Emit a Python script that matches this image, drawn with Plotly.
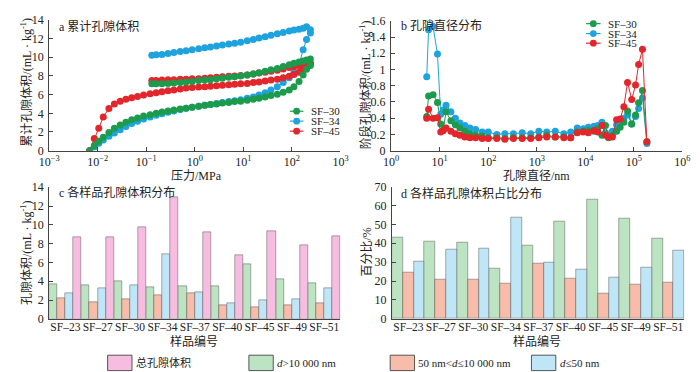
import plotly.graph_objects as go

W, H = 700, 372
FONT = '"Liberation Serif", "Times New Roman", "Noto Sans CJK SC", serif'

# ---------------- (a) cumulative pore volume ----------------
pressure_intrusion = [0.0068, 0.0085, 0.0105, 0.013, 0.017, 0.022, 0.029, 0.038, 0.05, 0.066,
                      0.088, 0.12, 0.16, 0.21, 0.28, 0.37, 0.5, 0.66, 0.88, 1.2,
                      1.6, 2.1, 2.8, 3.7, 5, 6.6, 8.8, 12, 16, 21,
                      28, 37, 50, 66, 88, 110, 140, 170, 200, 240]
pressure_extrusion = [240, 200, 170, 140, 110, 88, 66, 50, 37, 28,
                      21, 16, 12, 8.8, 6.6, 5, 3.7, 2.8, 2.1, 1.6,
                      1.2, 0.88, 0.66, 0.5, 0.37, 0.28, 0.21, 0.16, 0.13]

sf30_intrusion = [0, 0.55, 1.0, 1.45, 1.95, 2.4, 2.75, 3.05, 3.3, 3.5,
                  3.7, 3.85, 4.0, 4.15, 4.25, 4.35, 4.45, 4.55, 4.65, 4.75,
                  4.85, 4.95, 5.0, 5.1, 5.15, 5.25, 5.3, 5.4, 5.5, 5.6,
                  5.75, 5.9, 6.05, 6.25, 6.5, 6.85, 7.4, 8.1, 8.7, 9.1]
sf30_extrusion = [9.8, 9.7, 9.6, 9.5, 9.35, 9.2, 9.0, 8.8, 8.65, 8.5,
                  8.35, 8.2, 8.1, 8.0, 7.9, 7.85, 7.75, 7.7, 7.6, 7.55,
                  7.5, 7.4, 7.35, 7.3, 7.25, 7.2, 7.15, 7.15, 7.15]

sf34_intrusion = [0, 0.4, 0.8, 1.15, 1.55, 1.9, 2.25, 2.6, 2.9, 3.15,
                  3.4, 3.6, 3.8, 3.95, 4.1, 4.25, 4.4, 4.55, 4.65, 4.75,
                  4.85, 4.95, 5.05, 5.15, 5.25, 5.35, 5.45, 5.6, 5.75, 5.95,
                  6.2, 6.5, 6.85, 7.3, 7.8, 8.4, 9.2, 10.8, 11.9, 12.6]
sf34_extrusion = [12.95, 13.25, 13.1, 13.0, 12.9, 12.8, 12.65, 12.5, 12.35, 12.2,
                  12.05, 11.9, 11.75, 11.6, 11.5, 11.4, 11.3, 11.2, 11.1, 11.0,
                  10.9, 10.8, 10.7, 10.6, 10.5, 10.4, 10.3, 10.25, 10.2]

sf45_intrusion = [0, 1.3, 2.4, 3.6, 4.5, 5.0, 5.3, 5.5, 5.65, 5.8,
                  5.95, 6.1, 6.2, 6.3, 6.4, 6.5, 6.6, 6.7, 6.75, 6.8,
                  6.85, 6.9, 6.95, 7.0, 7.05, 7.1, 7.15, 7.2, 7.3, 7.35,
                  7.45, 7.55, 7.65, 7.8, 7.95, 8.15, 8.4, 8.7, 9.0, 9.3]
sf45_extrusion = [9.35, 9.3, 9.2, 9.1, 9.0, 8.9, 8.75, 8.6, 8.5, 8.4,
                  8.3, 8.2, 8.1, 8.05, 8.0, 7.95, 7.9, 7.85, 7.8, 7.75,
                  7.7, 7.7, 7.65, 7.65, 7.6, 7.6, 7.55, 7.5, 7.5]

# ---------------- (b) pore diameter distribution ----------------
diameter_nm = [5.4, 5.9, 7.3, 9.0, 10.5, 11.8, 13.5, 17, 21, 26,
               33, 42, 55, 75, 100, 150, 220, 330, 500, 750,
               1100, 1600, 2400, 3600, 5000, 6800, 9000, 11500, 15000, 18000,
               22000, 26000, 30000, 36000, 44000, 52000, 62000, 74000, 90000, 108000,
               125000, 150000, 185000]
sf30_stage = [0.42, 0.675, 0.69, 0.595, 0.33, 0.25, 0.48, 0.37, 0.32, 0.28,
              0.24, 0.21, 0.19, 0.18, 0.16, 0.16, 0.15, 0.16, 0.16, 0.16,
              0.17, 0.19, 0.17, 0.17, 0.16, 0.23, 0.24, 0.25, 0.24, 0.27,
              0.19, 0.31, 0.16, 0.19, 0.24, 0.29, 0.35, 0.49, 0.33, 0.44,
              0.59, 0.74, 0.11]
sf34_stage = [0.91, 1.49, 1.53, 1.19, 0.45, 0.5, 0.56, 0.48, 0.4, 0.34,
              0.31, 0.28, 0.26, 0.23, 0.23, 0.2, 0.21, 0.21, 0.22, 0.21,
              0.24, 0.23, 0.24, 0.21, 0.23, 0.28, 0.27, 0.29, 0.3, 0.31,
              0.35, 0.22, 0.19, 0.24, 0.32, 0.36, 0.4, 0.44, 0.33, 0.42,
              0.52, 0.65, 0.09]
sf45_stage = [0.4, 0.51, 0.4, 0.405, 0.23, 0.25, 0.28, 0.24, 0.21, 0.19,
              0.17, 0.16, 0.16, 0.15, 0.15, 0.15, 0.14, 0.15, 0.15, 0.15,
              0.16, 0.17, 0.17, 0.16, 0.16, 0.22, 0.23, 0.22, 0.25, 0.23,
              0.31, 0.19, 0.17, 0.17, 0.38, 0.39, 0.54, 0.84, 0.63, 0.81,
              1.06, 1.25, 0.11]

# ---------------- (c)/(d) bar data ----------------
samples = ["SF–23", "SF–27", "SF–30", "SF–34", "SF–37", "SF–40", "SF–45", "SF–49", "SF–51"]
vol_macro = [3.7, 3.55, 4.05, 3.4, 3.5, 3.45, 5.85, 4.2, 3.8]     # d>10 000 nm
vol_meso = [2.2, 1.8, 2.1, 2.5, 2.7, 1.4, 1.2, 1.4, 1.7]          # 50<d<=10 000 nm
vol_micro = [2.7, 3.2, 3.6, 6.85, 2.8, 1.7, 2.0, 2.1, 3.2]        # d<=50 nm
vol_total = [8.7, 8.7, 9.7, 12.9, 9.25, 6.75, 9.3, 7.85, 8.8]
pct_macro = [43.2, 41.0, 40.3, 26.5, 39.0, 51.6, 63.0, 53.3, 42.7]
pct_meso = [24.5, 20.8, 20.8, 18.8, 29.2, 21.4, 13.5, 18.3, 19.4]
pct_micro = [30.5, 36.7, 37.2, 53.4, 30.0, 25.8, 21.8, 27.2, 36.1]

log_tickvals_a = [0.001, 0.01, 0.1, 1, 10, 100, 1000]
log_ticktext_a = ["10<sup>−3</sup>", "10<sup>−2</sup>", "10<sup>−1</sup>", "10<sup>0</sup>",
                  "10<sup>1</sup>", "10<sup>2</sup>", "10<sup>3</sup>"]
log_tickvals_b = [1, 10, 100, 1000, 10000, 100000, 1000000]
log_ticktext_b = ["10<sup>0</sup>", "10<sup>1</sup>", "10<sup>2</sup>", "10<sup>3</sup>",
                  "10<sup>4</sup>", "10<sup>5</sup>", "10<sup>6</sup>"]

line_names = ["SF–30", "SF–34", "SF–45"]
C_GREEN, C_BLUE, C_RED = "#1c9b4c", "#1ea3df", "#e2262b"
BAR_GREEN, BAR_SALMON, BAR_BLUE, BAR_PINK = "#bde4c2", "#f8bcaa", "#bfe6f6", "#f6bde0"
AX = "#444444"


def fx(x):
    return x / W


def fy(y):
    return 1 - y / H


fig = go.Figure()

# (a) traces
for name, vin, vout, col in [("SF–34", sf34_intrusion, sf34_extrusion, C_BLUE),
                             ("SF–45", sf45_intrusion, sf45_extrusion, C_RED),
                             ("SF–30", sf30_intrusion, sf30_extrusion, C_GREEN)]:
    fig.add_trace(go.Scatter(x=pressure_intrusion + pressure_extrusion, y=vin + vout,
                             mode="lines+markers", name=name, showlegend=False,
                             line=dict(color=col, width=1), marker=dict(color=col, size=7),
                             xaxis="x", yaxis="y"))

# (b) traces
for name, vals, col in [("SF–34", sf34_stage, C_BLUE), ("SF–30", sf30_stage, C_GREEN),
                        ("SF–45", sf45_stage, C_RED)]:
    fig.add_trace(go.Scatter(x=diameter_nm, y=vals, mode="lines+markers", name=name,
                             showlegend=False, line=dict(color=col, width=1),
                             marker=dict(color=col, size=7), xaxis="x2", yaxis="y2"))

bar_line = dict(color="rgba(70,70,70,0.55)", width=0.8)
# (c) bars
for vals, col, nm in [(vol_macro, BAR_GREEN, "d>10 000 nm"), (vol_meso, BAR_SALMON, "50 nm<d≤10 000 nm"),
                      (vol_micro, BAR_BLUE, "d≤50 nm"), (vol_total, BAR_PINK, "总孔隙体积")]:
    fig.add_trace(go.Bar(x=samples, y=vals, name=nm, showlegend=False,
                         marker=dict(color=col, line=bar_line), xaxis="x3", yaxis="y3",
                         offsetgroup=nm))
# (d) bars
for vals, col, nm in [(pct_macro, BAR_GREEN, "d>10 000 nm"), (pct_meso, BAR_SALMON, "50 nm<d≤10 000 nm"),
                      (pct_micro, BAR_BLUE, "d≤50 nm")]:
    fig.add_trace(go.Bar(x=samples, y=vals, name=nm, showlegend=False,
                         marker=dict(color=col, line=bar_line), xaxis="x4", yaxis="y4",
                         offsetgroup=nm + "_d"))

common = dict(showline=True, linecolor=AX, linewidth=1.3, ticks="inside", ticklen=4,
              tickcolor=AX, tickwidth=1, showgrid=False, zeroline=False,
              tickfont=dict(family=FONT, size=12, color="#222"), ticklabelstandoff=2)
logx_common = {**common, "ticklabelstandoff": 0}
cat_common = {**common, "ticks": "", "tickangle": 0, "ticklabelstandoff": -3,
              "tickfont": dict(family=FONT, size=11.5, color="#222")}

fig.update_layout(
    width=W, height=H, margin=dict(l=0, r=0, t=0, b=0),
    paper_bgcolor="white", plot_bgcolor="white",
    font=dict(family=FONT, size=12, color="#222"),
    barmode="group", bargap=0, bargroupgap=0, showlegend=False,
    xaxis=dict(type="log", range=[-3, 3], domain=[fx(32), fx(331)], anchor="y",
               tickvals=log_tickvals_a, ticktext=log_ticktext_a, **logx_common),
    yaxis=dict(range=[0, 14], domain=[fy(141), fy(5)], anchor="x", dtick=2, **common),
    xaxis2=dict(type="log", range=[0, 6], domain=[fx(383), fx(682)], anchor="y2",
                tickvals=log_tickvals_b, ticktext=log_ticktext_b, **logx_common),
    yaxis2=dict(range=[0, 1.6], domain=[fy(141), fy(6)], anchor="x2", dtick=0.2, **common),
    xaxis3=dict(type="category", range=[-0.5, 8.5], domain=[fx(32), fx(331)], anchor="y3",
                **cat_common),
    yaxis3=dict(range=[0, 14], domain=[fy(315.7), fy(179)], anchor="x3", dtick=2, **common),
    xaxis4=dict(type="category", range=[-0.5, 8.5], domain=[fx(384), fx(684)], anchor="y4",
                **cat_common),
    yaxis4=dict(range=[0, 70], domain=[fy(315.7), fy(178.3)], anchor="x4", dtick=10, **common),
)

ann = []


def text(x, y, s, size=12, xanchor="left", angle=0):
    ann.append(dict(x=fx(x), y=fy(y), xref="paper", yref="paper", text=s, showarrow=False,
                    xanchor=xanchor, yanchor="middle", textangle=angle,
                    font=dict(family=FONT, size=size, color="#222")))


# panel titles
text(40, 12, "a 累计孔隙体积", 12)
text(391, 11, "b 孔隙直径分布", 12)
text(40, 184, "c 各样品孔隙体积分布", 12)
text(391, 185, "d 各样品孔隙体积占比分布", 12)
# axis titles
text(183, 167.5, "压力/MPa", 12, "center")
text(532, 167.5, "孔隙直径/nm", 12, "center")
text(181, 339, "样品编号", 12, "center")
text(533, 339, "样品编号", 12, "center")
text(8.5, 70, "累计孔隙体积/(mL · kg<sup>-1</sup>)", 12, "center", -90)
text(356, 72, "阶段孔隙体积/(mL · kg<sup>-1</sup>)", 12, "center", -90)
text(8.5, 247, "孔隙体积/(mL · kg<sup>-1</sup>)", 12, "center", -90)
text(358, 246, "百分比/%", 12, "center", -90)

shapes = []
# line legends (a) and (b)
for (x0, x1, xt, ys) in [(279, 293, 299, [100, 110.3, 120.7]), (583, 598, 604, [9, 19.3, 29.3])]:
    for name, col, yy in zip(line_names, [C_GREEN, C_BLUE, C_RED], ys):
        shapes.append(dict(type="line", xref="paper", yref="paper", x0=fx(x0), x1=fx(x1),
                           y0=fy(yy), y1=fy(yy), line=dict(color=col, width=1.2)))
        xc = (x0 + x1) / 2
        shapes.append(dict(type="circle", xref="paper", yref="paper", x0=fx(xc - 3.5), x1=fx(xc + 3.5),
                           y0=fy(yy + 3.5), y1=fy(yy - 3.5), fillcolor=col, line=dict(color=col, width=0)))
        text(xt, yy, name, 11)

# bar legend
legend_items = [(92, BAR_PINK, "总孔隙体积"), (237, BAR_GREEN, "<i>d</i>>10 000 nm"),
                (382, BAR_SALMON, "50 nm<<i>d</i>≤10 000 nm"), (527, BAR_BLUE, "<i>d</i>≤50 nm")]
for x0, col, lab in legend_items:
    shapes.append(dict(type="rect", xref="paper", yref="paper", x0=fx(x0), x1=fx(x0 + 25),
                       y0=fy(369.5), y1=fy(353.5), fillcolor=col, line=dict(color="#555", width=1)))
    text(x0 + 27, 361.5, lab, 11)

fig.update_layout(annotations=ann, shapes=shapes)
fig.write_html("out.html")
